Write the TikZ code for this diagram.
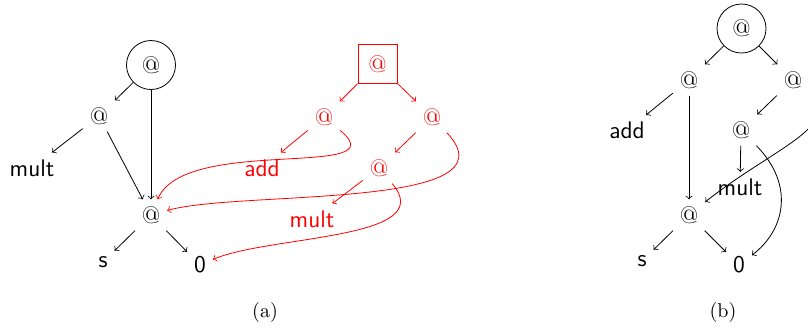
\documentclass[tikz,border=0pt]{standalone}
\begin{document}
\begin{tikzpicture}[x=0.5pt,y=-0.5pt,
  lbl/.style={font=\fontsize{12}{14}\selectfont\sffamily},
  atsym/.style={font=\fontsize{12}{14}\selectfont},
  circnode/.style={atsym,draw,circle,minimum size=24.5pt,inner sep=0pt},
  sqnode/.style={atsym,draw,minimum size=19.5pt,inner sep=0pt},
  arr/.style={->},
  redarr/.style={->,red}]
\useasboundingbox (0,0) rectangle (808,329);
\clip (0,0) rectangle (808,329);

% ---------- (a) black tree ----------
\node[circnode] (r1) at (151,65) {@};
\node[atsym] (a1) at (99,116) {@};
\node[lbl] (mult1) at (32,168) {mult};
\node[atsym] (b1) at (151,215) {@};
\node[lbl] (s1) at (103,262) {s};
\node[lbl] (z1) at (200,265) {0};

\draw[arr] (r1) -- (a1);
\draw[arr] (r1) -- (b1);
\draw[arr] (a1) -- (mult1);
\draw[arr] (a1) -- (b1);
\draw[arr] (b1) -- (s1);
\draw[arr] (b1) -- (z1);

% ---------- (a) red tree ----------
\node[sqnode,red] (sq) at (377.5,64) {@};
\node[atsym,red] (l2) at (324,117) {@};
\node[atsym,red] (r2) at (432,117) {@};
\node[lbl,red] (add2) at (262,168) {add};
\node[atsym,red] (m2) at (379,168) {@};
\node[lbl,red] (mult2) at (312,219) {mult};

\draw[redarr] (sq) -- (l2);
\draw[redarr] (sq) -- (r2);
\draw[redarr] (l2) -- (add2);
\draw[redarr] (r2) -- (m2);
\draw[redarr] (m2) -- (mult2);
\draw[redarr] (l2) .. controls (400,180) and (185,135) .. (b1);
\draw[redarr] (r2) .. controls (520,210) and (240,190) .. (b1);
\draw[redarr] (m2) .. controls (440,240) and (270,235) .. (z1);

% ---------- (b) ----------
\node[circnode] (r3) at (741.5,28.5) {@};
\node[atsym] (bl) at (689,80) {@};
\node[atsym] (br) at (793,80) {@};
\node[lbl] (add3) at (627,130.5) {add};
\node[atsym] (bm) at (741,130) {@};
\node[lbl] (mult3) at (740,187.5) {mult};
\node[atsym] (bb) at (689,215) {@};
\node[lbl] (s3) at (642,261) {s};
\node[lbl] (z3) at (739,265) {0};

\draw[arr] (r3) -- (bl);
\draw[arr] (r3) -- (br);
\draw[arr] (bl) -- (add3);
\draw[arr] (bl) -- (bb);
\draw[arr] (br) -- (bm);
\draw[arr] (bm) -- (mult3);
\draw[arr] (bb) -- (s3);
\draw[arr] (bb) -- (z3);
\draw[arr] (bm) .. controls (795,185) and (785,230) .. (z3);
\draw[arr] (br) .. controls (845,125) and (770,150) .. (bb);

% ---------- captions ----------
\node (capa) at (265,312) {(a)};
\node (capb) at (723,312) {(b)};
\end{tikzpicture}
\end{document}
